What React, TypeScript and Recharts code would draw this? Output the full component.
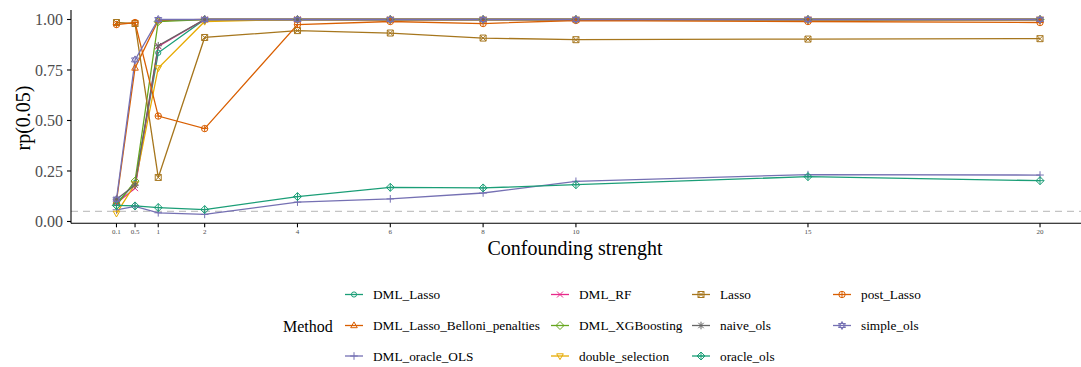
import React from "react";
import { LineChart, Line, XAxis, YAxis, ReferenceLine } from "recharts";

// Confounding strength (x) values
const strengths = [0.1, 0.5, 1, 2, 4, 6, 8, 10, 15, 20];

// rp(0.05) per method
const dmlLasso = [0.09, 0.19, 0.835, 1.0, 1.0, 1.0, 1.0, 1.0, 1.0, 1.0];
const dmlLassoBelloni = [0.1, 0.76, 0.995, 1.0, 1.0, 1.0, 1.0, 1.0, 1.0, 1.0];
const dmlOracleOls = [0.058, 0.075, 0.043, 0.035, 0.096, 0.112, 0.141, 0.199, 0.232, 0.23];
const dmlRf = [0.09, 0.165, 0.867, 1.0, 1.0, 1.0, 1.0, 1.0, 1.0, 1.0];
const dmlXgb = [0.08, 0.2, 0.99, 1.0, 1.0, 1.0, 1.0, 1.0, 1.0, 1.0];
const doubleSelection = [0.04, 0.185, 0.76, 0.99, 1.0, 1.0, 1.0, 1.0, 1.0, 1.0];
const lasso = [0.985, 0.98, 0.218, 0.911, 0.945, 0.933, 0.908, 0.9, 0.903, 0.905];
const naiveOls = [0.11, 0.18, 0.87, 1.0, 1.0, 1.0, 1.0, 1.0, 1.0, 1.0];
const oracleOls = [0.08, 0.077, 0.069, 0.059, 0.123, 0.169, 0.166, 0.182, 0.222, 0.202];
const postLasso = [0.975, 0.985, 0.522, 0.46, 0.975, 0.99, 0.98, 0.995, 0.99, 0.985];
const simpleOls = [0.11, 0.8, 1.0, 1.0, 1.0, 1.0, 1.0, 1.0, 1.0, 1.0];

const yTicks = [0, 0.25, 0.5, 0.75, 1];

// ggplot Dark2 palette, recycled; shapes 1..11
const SERIES = [
    { name: "DML_Lasso", values: dmlLasso, color: "#1B9E77", shape: 1 },
    { name: "DML_Lasso_Belloni_penalties", values: dmlLassoBelloni, color: "#D95F02", shape: 2 },
    { name: "DML_oracle_OLS", values: dmlOracleOls, color: "#7570B3", shape: 3 },
    { name: "DML_RF", values: dmlRf, color: "#E7298A", shape: 4 },
    { name: "DML_XGBoosting", values: dmlXgb, color: "#66A61E", shape: 5 },
    { name: "double_selection", values: doubleSelection, color: "#E6AB02", shape: 6 },
    { name: "Lasso", values: lasso, color: "#A6761D", shape: 7 },
    { name: "naive_ols", values: naiveOls, color: "#666666", shape: 8 },
    { name: "oracle_ols", values: oracleOls, color: "#1B9E77", shape: 9 },
    { name: "post_Lasso", values: postLasso, color: "#D95F02", shape: 10 },
    { name: "simple_ols", values: simpleOls, color: "#7570B3", shape: 11 },
];

const FONT = "Liberation Serif, DejaVu Serif, serif";
const GREY = "#4D4D4D";

const tableData = strengths.map((x, i) => {
    const row: Record<string, number> = { x };
    SERIES.forEach((s) => {
        row[s.name] = s.values[i];
    });
    return row;
});

function Marker({ cx, cy, shape, color }: { cx: number; cy: number; shape: number; color: string }) {
    const p = { stroke: color, strokeWidth: 1, fill: "none" };
    const r = 3;
    switch (shape) {
        case 1:
            return <circle cx={cx} cy={cy} r={2.6} {...p} />;
        case 2:
            return <polygon points={`${cx},${cy - 3.6} ${cx + 3.3},${cy + 2.2} ${cx - 3.3},${cy + 2.2}`} {...p} />;
        case 3:
            return <path d={`M${cx - 3.8},${cy}H${cx + 3.8}M${cx},${cy - 3.8}V${cy + 3.8}`} {...p} />;
        case 4:
            return <path d={`M${cx - r},${cy - r}L${cx + r},${cy + r}M${cx - r},${cy + r}L${cx + r},${cy - r}`} {...p} />;
        case 5:
            return <polygon points={`${cx},${cy - 4} ${cx + 4},${cy} ${cx},${cy + 4} ${cx - 4},${cy}`} {...p} />;
        case 6:
            return <polygon points={`${cx},${cy + 3.6} ${cx + 3.3},${cy - 2.2} ${cx - 3.3},${cy - 2.2}`} {...p} />;
        case 7:
            return (
                <path
                    d={`M${cx - r},${cy - r}H${cx + r}V${cy + r}H${cx - r}ZM${cx - r},${cy - r}L${cx + r},${cy + r}M${cx - r},${cy + r}L${cx + r},${cy - r}`}
                    {...p}
                />
            );
        case 8:
            return (
                <path
                    d={`M${cx - 3.8},${cy}H${cx + 3.8}M${cx},${cy - 3.8}V${cy + 3.8}M${cx - 2.7},${cy - 2.7}L${cx + 2.7},${cy + 2.7}M${cx - 2.7},${cy + 2.7}L${cx + 2.7},${cy - 2.7}`}
                    {...p}
                />
            );
        case 9:
            return (
                <path
                    d={`M${cx},${cy - 4}L${cx + 4},${cy}L${cx},${cy + 4}L${cx - 4},${cy}ZM${cx - 4},${cy}H${cx + 4}M${cx},${cy - 4}V${cy + 4}`}
                    {...p}
                />
            );
        case 10:
            return (
                <g>
                    <circle cx={cx} cy={cy} r={3.2} {...p} />
                    <path d={`M${cx - 3.2},${cy}H${cx + 3.2}M${cx},${cy - 3.2}V${cy + 3.2}`} {...p} />
                </g>
            );
        default:
            return (
                <g>
                    <polygon points={`${cx},${cy - 4} ${cx + 3.5},${cy + 2} ${cx - 3.5},${cy + 2}`} {...p} />
                    <polygon points={`${cx},${cy + 4} ${cx + 3.5},${cy - 2} ${cx - 3.5},${cy - 2}`} {...p} />
                </g>
            );
    }
}

// legend layout: 3 rows, column-major
const LEGEND_COLS = [373, 579, 720, 861];
const LEGEND_ROWS = [294.5, 325.5, 356];

export default function App() {
    return (
        <div style={{ position: "absolute", left: 0, top: 0, width: 1081, height: 367, background: "#fff", fontFamily: FONT }}>
            <LineChart
                width={1081}
                height={367}
                data={tableData}
                margin={{ top: 10, right: 0, left: 0, bottom: 123.7 }}
            >
                <XAxis
                    dataKey="x"
                    type="number"
                    domain={[-0.88, 20.883]}
                    allowDataOverflow
                    ticks={strengths}
                    interval={0}
                    height={20}
                    tickSize={4}
                    tickMargin={2}
                    stroke="#000"
                    strokeWidth={1.1}
                    tick={{ fontSize: 7, fill: GREY, fontFamily: FONT }}
                />
                <YAxis
                    type="number"
                    domain={[-0.009, 1.047]}
                    allowDataOverflow
                    ticks={yTicks}
                    width={71}
                    tickSize={4}
                    tickMargin={4}
                    stroke="#000"
                    strokeWidth={1.1}
                    tickFormatter={(v: number) => v.toFixed(2)}
                    tick={{ fontSize: 16, fill: GREY, fontFamily: FONT }}
                />
                <ReferenceLine y={0.05} stroke="#c4c4c4" strokeWidth={1.4} strokeDasharray="7 5" />
                {SERIES.map((s) => (
                    <Line
                        key={`l-${s.name}`}
                        dataKey={s.name}
                        type="linear"
                        stroke={s.color}
                        strokeWidth={1.3}
                        dot={false}
                        activeDot={false}
                        isAnimationActive={false}
                    />
                ))}
                {SERIES.map((s) => (
                    <Line
                        key={`p-${s.name}`}
                        dataKey={s.name}
                        type="linear"
                        stroke="none"
                        strokeWidth={0}
                        activeDot={false}
                        isAnimationActive={false}
                        dot={(props: any) => (
                            <Marker
                                key={`${s.name}-${props.index}`}
                                cx={props.cx}
                                cy={props.cy}
                                shape={s.shape}
                                color={s.color}
                            />
                        )}
                    />
                ))}
            </LineChart>
            <svg
                width={1081}
                height={367}
                style={{ position: "absolute", left: 0, top: 0, pointerEvents: "none" }}
            >
                <text x={0} y={0} fontSize={20} fill="#000" fontFamily={FONT} textAnchor="middle" transform="translate(30,118) rotate(-90)">
                    rp(0.05)
                </text>
                <text x={575} y={255} fontSize={20} fill="#000" fontFamily={FONT} textAnchor="middle">
                    Confounding strenght
                </text>
                <text x={283} y={326} fontSize={16} fill="#000" fontFamily={FONT} dominantBaseline="central">
                    Method
                </text>
                {SERIES.map((s, i) => {
                    const col = Math.floor(i / 3);
                    const row = i % 3;
                    const lx = LEGEND_COLS[col];
                    const ly = LEGEND_ROWS[row];
                    const k0 = lx - 28;
                    return (
                        <g key={s.name}>
                            <line x1={k0} x2={k0 + 18} y1={ly} y2={ly} stroke={s.color} strokeWidth={1.3} />
                            <Marker cx={k0 + 9} cy={ly} shape={s.shape} color={s.color} />
                            <text x={lx} y={ly} fontSize={13.3} fill="#000" fontFamily={FONT} dominantBaseline="central">
                                {s.name}
                            </text>
                        </g>
                    );
                })}
            </svg>
        </div>
    );
}
